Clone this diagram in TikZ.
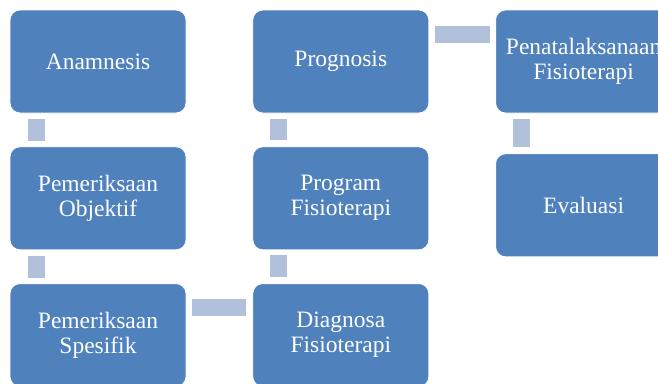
\documentclass[tikz,border=0pt]{standalone}
\usepackage{fontspec}
\setmainfont{Liberation Serif}
\usepackage{xcolor}
\usepackage{tikz}
\usetikzlibrary{positioning}
\definecolor{boxblue}{RGB}{79,129,189}
\definecolor{linkblue}{RGB}{178,193,219}
\tikzset{
    stage/.style={
        rectangle,
        rounded corners=10pt,
        draw=white,
        line width=0.8pt,
        fill=boxblue,
        text=white,
        minimum width=176pt,
        minimum height=103pt,
        inner sep=2pt,
        align=center,
        font=\fontsize{23.5}{25}\selectfont
    },
    link/.style={
        draw=linkblue,
        line width=17pt,
        line cap=butt
    }
}

\begin{document}
\begin{tikzpicture}[node distance=33pt and 66pt]

\useasboundingbox (0,0) rectangle (658pt,-383pt);

% First column
\node[stage] (anam) at (98pt,-61.5pt) {Anamnesis};
\node[stage, below=of anam] (objek) {Pemeriksaan\\Objektif};
\node[stage, below=of objek] (spes) {Pemeriksaan\\Spesifik};

% Second column
\node[stage, right=of spes] (diag) {Diagnosa\\Fisioterapi};
\node[stage, above=of diag] (prog) {Program\\Fisioterapi};
\node[stage, above=of prog] (progn) {Prognosis};

% Third column
\node[stage, right=of progn] (penat) {Penatalaksanaan\\Fisioterapi};
\node[stage, below=40pt of penat] (eval) {Evaluasi};

% Links
\draw[link] ([xshift=26.5pt,yshift=-6pt]anam.south west) -- ([xshift=26.5pt,yshift=5pt]objek.north west);
\draw[link] ([xshift=26.5pt,yshift=-6pt]objek.south west) -- ([xshift=26.5pt,yshift=5pt]spes.north west);
\draw[link] ([xshift=6pt,yshift=-24.5pt]spes.north east) -- ([xshift=-6pt,yshift=-24.5pt]diag.north west);
\draw[link] ([xshift=26.5pt,yshift=6pt]diag.north west) -- ([xshift=26.5pt,yshift=-5pt]prog.south west);
\draw[link] ([xshift=26.5pt,yshift=6pt]prog.north west) -- ([xshift=26.5pt,yshift=-6pt]progn.south west);
\draw[link] ([xshift=6pt,yshift=-24.5pt]progn.north east) -- ([xshift=-5pt,yshift=-24.5pt]penat.north west);
\draw[link] ([xshift=26.5pt,yshift=-6pt]penat.south west) -- ([xshift=26.5pt,yshift=6pt]eval.north west);

\end{tikzpicture}
\end{document}
